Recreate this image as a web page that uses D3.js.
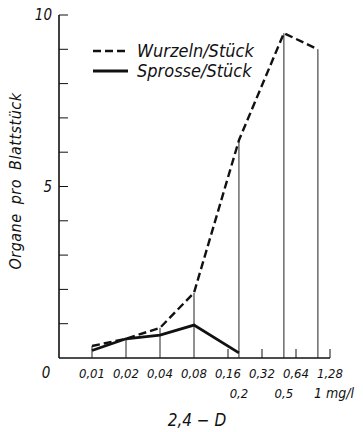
<!DOCTYPE html>
<html>
<head>
<meta charset="utf-8">
<script src="https://cdn.jsdelivr.net/npm/d3@7"></script>
<style>
  body { margin: 0; background: #fff; }
  text { font-family: "Liberation Sans Narrow", "DejaVu Sans Condensed", sans-serif; font-style: italic; fill: #111; }
</style>
</head>
<body>
<div id="chart-area"></div>
<script>
// Data
const conc = [0.01, 0.02, 0.04, 0.08, 0.2, 0.5, 1];
const wurzeln = [0.35, 0.56, 0.88, 1.9, 6.35, 9.47, 9.0];
const sprosse = [0.22, 0.56, 0.67, 0.96, 0.15];
const topTicks = ['0,01', '0,02', '0,04', '0,08', '0,16', '0,32', '0,64', '1,28'];
const topTickValues = [0.01, 0.02, 0.04, 0.08, 0.16, 0.32, 0.64, 1.28];
const lowTicks = ['0,2', '0,5'];
const lowTickValues = [0.2, 0.5];
const yTicks = [1, 2, 3, 4, 5, 6, 7, 8, 9, 10];

const width = 363, height = 432;
const x0 = 59, yBase = 358;

const svg = d3.select('#chart-area')
  .append('svg')
    .attr('width', width)
    .attr('height', height);

// Scales
const x = d3.scaleLog()
  .base(2)
  .domain([0.01, 1.28])
  .range([92, 330]);

const y = d3.scaleLinear()
  .domain([0, 10])
  .range([yBase, 15]);

// Axes lines
svg.append('line')
  .attr('x1', x0).attr('x2', x0)
  .attr('y1', yBase).attr('y2', y(10))
  .attr('stroke', '#111').attr('stroke-width', 1.6);

svg.append('line')
  .attr('x1', x0).attr('x2', x(1.28))
  .attr('y1', yBase).attr('y2', yBase)
  .attr('stroke', '#111').attr('stroke-width', 1.6);

// Y ticks point inward
svg.selectAll('.ytick')
  .data(yTicks)
  .enter().append('line')
    .attr('x1', x0).attr('x2', x0 + 9)
    .attr('y1', d => y(d)).attr('y2', d => y(d))
    .attr('stroke', '#111').attr('stroke-width', 1);

svg.selectAll('.ylab')
  .data([0, 5, 10])
  .enter().append('text')
    .attr('x', d => d === 0 ? 46 : 52)
    .attr('y', d => d === 0 ? 378 : y(d) + 5)
    .attr('text-anchor', d => d === 0 ? 'middle' : 'end')
    .attr('font-size', '15px')
    .text(d => d);

// small x ticks
svg.selectAll('.xtick')
  .data([0.16, 0.32, 0.64, 1.28])
  .enter().append('line')
    .attr('x1', d => x(d)).attr('x2', d => x(d))
    .attr('y1', yBase).attr('y2', yBase - 9)
    .attr('stroke', '#111').attr('stroke-width', 1);

// drop lines from each data point
conc.forEach((c, i) => {
  const top = Math.max(wurzeln[i], sprosse[i] || 0);
  svg.append('line')
    .attr('x1', x(c)).attr('x2', x(c))
    .attr('y1', y(top)).attr('y2', yBase)
    .attr('stroke', '#222').attr('stroke-width', 1);
});

// x tick labels
svg.selectAll('.xlab1')
  .data(topTickValues)
  .enter().append('text')
    .attr('x', d => x(d))
    .attr('y', 378)
    .attr('text-anchor', 'middle')
    .attr('font-size', '13px')
    .text((d, i) => topTicks[i]);

svg.selectAll('.xlab2')
  .data(lowTickValues)
  .enter().append('text')
    .attr('x', d => x(d))
    .attr('y', 398)
    .attr('text-anchor', 'middle')
    .attr('font-size', '13px')
    .text((d, i) => lowTicks[i]);

svg.append('text')
  .attr('x', x(1) - 4)
  .attr('y', 398)
  .attr('font-size', '14px')
  .text('1 mg/l');

// Lines
const line = d3.line()
  .x((d, i) => x(conc[i]))
  .y(d => y(d));

svg.append('path')
  .datum(wurzeln)
  .attr('d', line)
  .attr('fill', 'none')
  .attr('stroke', '#111')
  .attr('stroke-width', 2.4)
  .attr('stroke-dasharray', '8,4');

svg.append('path')
  .datum(sprosse)
  .attr('d', line)
  .attr('fill', 'none')
  .attr('stroke', '#111')
  .attr('stroke-width', 2.8);

// Legend
const legend = svg.append('g');
[['Wurzeln/Stück', '8,4', 2.4], ['Sprosse/Stück', null, 2.8]].forEach((row, i) => {
  const yy = 51 + i * 20;
  legend.append('line')
    .attr('x1', 93).attr('x2', 128)
    .attr('y1', yy).attr('y2', yy)
    .attr('stroke', '#111')
    .attr('stroke-width', row[2])
    .attr('stroke-dasharray', row[1]);
  legend.append('text')
    .attr('x', 137)
    .attr('y', yy + 6)
    .attr('font-size', '18px')
    .text(row[0]);
});

// Axis titles
svg.append('text')
  .attr('transform', 'translate(21, 181) rotate(-90)')
  .attr('text-anchor', 'middle')
  .attr('font-size', '16px')
  .attr('letter-spacing', '0.5px')
  .attr('word-spacing', '4px')
  .text('Organe pro Blattstück');

svg.append('text')
  .attr('x', 197)
  .attr('y', 426)
  .attr('text-anchor', 'middle')
  .attr('font-size', '17px')
  .text('2,4 − D');
</script>
</body>
</html>
